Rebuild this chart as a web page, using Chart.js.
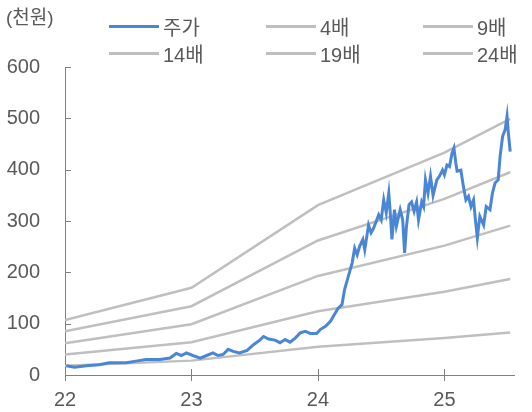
<!DOCTYPE html>
<html lang="ko">
<head>
<meta charset="utf-8">
<title>주가 PER 밴드</title>
<script src="https://cdn.jsdelivr.net/npm/chart.js@4.4.1/dist/chart.umd.min.js"></script>
<style>
  body { margin: 0; background: #fff; }
  .wrap { position: relative; width: 532px; height: 412px; font-family: 'Liberation Sans', 'Noto Sans CJK KR', sans-serif; color: #595959; }
  .unit { position: absolute; left: 6px; top: 5px; font-size: 19px; line-height: 26px; }
  .legend { position: absolute; left: 109px; top: 13px; display: grid; grid-template-columns: 157px 157px 157px; grid-auto-rows: 27px; }
  .legend .item { display: flex; align-items: center; font-size: 20px; white-space: nowrap; }
  .legend .swatch { width: 50px; height: 3px; margin-right: 4px; }
</style>
</head>
<body>
<div class="wrap">
  <canvas id="chart" width="532" height="412"></canvas>
  <div class="unit">(천원)</div>
  <div class="legend" id="legend"></div>
</div>
<script>
// band lines: yearly points, last one is the latest date
const bandYears = [22, 23, 24, 25, 25.52];
const band4 = [18, 28, 55, 72, 83];
const band9 = [40, 64, 124, 162, 187];
const band14 = [62, 99, 193, 252, 291];
const band19 = [85, 134, 262, 343, 395];
const band24 = [107, 170, 331, 433, 499];

// share price (천원)
const priceYears = [
  22.01, 22.075, 22.17, 22.27, 22.35, 22.485, 22.56, 22.64, 22.75, 22.83, 22.88, 22.92,
  22.96, 23.01, 23.07, 23.12, 23.17, 23.21, 23.25, 23.29, 23.33, 23.38, 23.44, 23.49,
  23.54, 23.57, 23.61, 23.66, 23.70, 23.74, 23.78, 23.82, 23.86, 23.90, 23.94, 23.99,
  24.02, 24.06, 24.10, 24.13, 24.16, 24.19, 24.21, 24.24, 24.27, 24.29, 24.31, 24.33,
  24.355, 24.37, 24.40, 24.42, 24.44, 24.46, 24.48, 24.50, 24.52, 24.54, 24.56, 24.57,
  24.585, 24.605, 24.62, 24.65, 24.67, 24.685, 24.70, 24.72, 24.74, 24.76, 24.78, 24.795,
  24.82, 24.835, 24.85, 24.87, 24.89, 24.91, 24.94, 24.96, 24.985, 25.00, 25.02, 25.04,
  25.06, 25.075, 25.09, 25.10, 25.13, 25.15, 25.17, 25.19, 25.21, 25.23, 25.245, 25.26,
  25.28, 25.31, 25.33, 25.36, 25.38, 25.40, 25.425, 25.44, 25.46, 25.48, 25.495, 25.505,
  25.52
];
const priceValues = [
  18, 15, 18, 20, 24, 24, 27, 30, 30, 33, 42, 38,
  43, 38, 33, 38, 43, 38, 40, 50, 46, 43, 48, 59,
  68, 75, 70, 68, 63, 69, 64, 72, 82, 85, 81, 81,
  89, 95, 105, 118, 130, 137, 166, 192, 218, 247, 234, 251,
  264, 244, 292, 277, 286, 299, 312, 302, 341, 316, 354, 322,
  264, 322, 290, 322, 302, 238, 290, 332, 337, 319, 337, 302,
  337, 328, 380, 354, 387, 350, 380, 387, 399, 390, 409, 406,
  432, 442, 413, 397, 399, 367, 341, 348, 328, 341, 302, 267,
  309, 292, 328, 322, 355, 374, 380, 426, 465, 478, 504, 472,
  435
];

const yearTicks = ['22', '23', '24', '25'];

const BLUE = '#4A86D6';
const GRAY = '#BFBFBF';
const TEXT = '#595959';
const FONT = "'Liberation Sans', 'Noto Sans CJK KR', sans-serif";

const toPoints = (xs, ys) => xs.map((x, i) => ({ x: x, y: ys[i] }));

const band = (label, values) => ({
  label: label,
  data: toPoints(bandYears, values),
  borderColor: GRAY,
  backgroundColor: GRAY,
  borderWidth: 2.5,
  pointRadius: 0,
  tension: 0
});

// inner tick marks like the original
const tickMarks = {
  id: 'tickMarks',
  beforeDatasetsDraw(chart) {
    const { ctx, chartArea, scales: { x, y } } = chart;
    ctx.save();
    ctx.strokeStyle = '#808080';
    ctx.lineWidth = 1;
    ctx.beginPath();
    y.ticks.forEach(t => {
      const py = Math.round(y.getPixelForValue(t.value)) + 0.5;
      ctx.moveTo(chartArea.left, py);
      ctx.lineTo(chartArea.left + 6, py);
    });
    x.ticks.forEach(t => {
      const px = Math.round(x.getPixelForValue(t.value)) + 0.5;
      ctx.moveTo(px, chartArea.bottom - 6);
      ctx.lineTo(px, chartArea.bottom + 6);
    });
    ctx.stroke();
    ctx.restore();
  }
};

const chart = new Chart(document.getElementById('chart'), {
  type: 'line',
  data: {
    datasets: [
      {
        label: '주가',
        data: toPoints(priceYears, priceValues),
        borderColor: BLUE,
        backgroundColor: BLUE,
        borderWidth: 3,
        pointRadius: 0,
        tension: 0
      },
      band('4배', band4),
      band('9배', band9),
      band('14배', band14),
      band('19배', band19),
      band('24배', band24)
    ]
  },
  options: {
    responsive: false,
    animation: false,
    layout: { padding: { top: 67, right: 18, left: 0, bottom: 0 } },
    plugins: {
      legend: { display: false },
      tooltip: { enabled: false }
    },
    scales: {
      x: {
        type: 'linear',
        min: 22,
        max: 25.55,
        afterFit: s => { s.height = 36; },
        grid: { drawOnChartArea: false, drawTicks: false },
        border: { color: '#808080', width: 1 },
        ticks: {
          stepSize: 1,
          includeBounds: false,
          padding: 13,
          color: TEXT,
          font: { family: FONT, size: 20 },
          callback: v => yearTicks[v - 22]
        }
      },
      y: {
        min: 0,
        max: 600,
        afterFit: s => { s.width = 65; },
        grid: { drawOnChartArea: false, drawTicks: false },
        border: { color: '#808080', width: 1 },
        ticks: {
          stepSize: 100,
          padding: 25,
          color: TEXT,
          font: { family: FONT, size: 20 }
        }
      }
    }
  },
  plugins: [tickMarks]
});

// HTML legend in a 3-column grid
const legendEl = document.getElementById('legend');
chart.data.datasets.forEach(ds => {
  const item = document.createElement('div');
  item.className = 'item';
  const sw = document.createElement('span');
  sw.className = 'swatch';
  sw.style.background = ds.borderColor;
  const txt = document.createElement('span');
  txt.textContent = ds.label;
  item.appendChild(sw);
  item.appendChild(txt);
  legendEl.appendChild(item);
});
</script>
</body>
</html>
